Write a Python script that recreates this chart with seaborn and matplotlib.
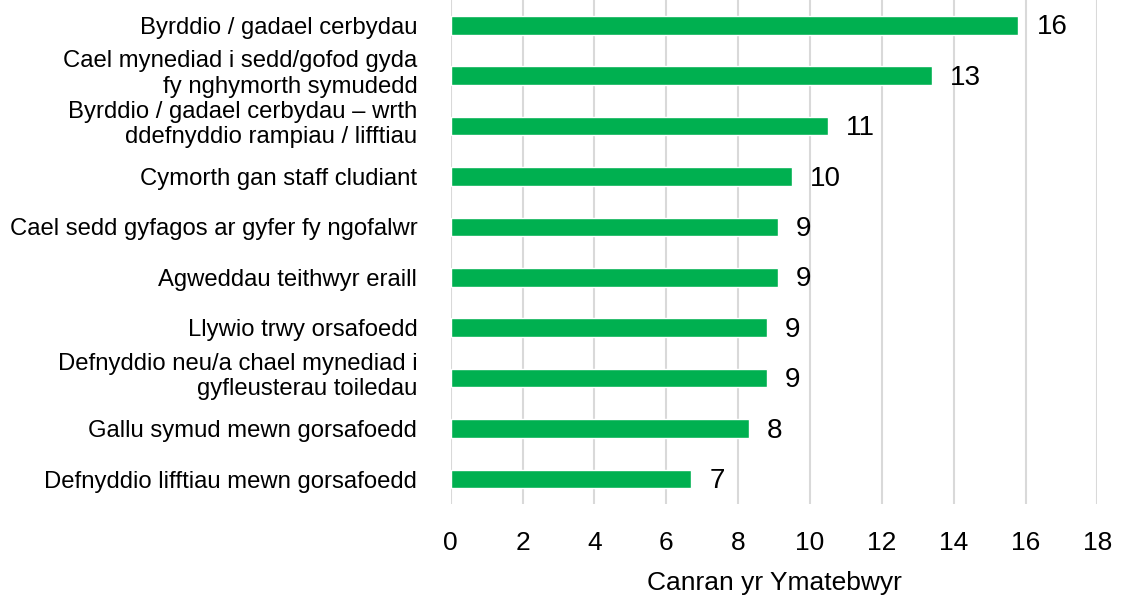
import matplotlib
matplotlib.use("Agg")
import matplotlib.pyplot as plt
import matplotlib.transforms as mtransforms
import seaborn as sns
import pandas as pd

categories = [
    "Byrddio / gadael cerbydau",
    "Cael mynediad i sedd/gofod gyda\nfy nghymorth symudedd",
    "Byrddio / gadael cerbydau – wrth\nddefnyddio rampiau / lifftiau",
    "Cymorth gan staff cludiant",
    "Cael sedd gyfagos ar gyfer fy ngofalwr",
    "Agweddau teithwyr eraill",
    "Llywio trwy orsafoedd",
    "Defnyddio neu/a chael mynediad i\ngyfleusterau toiledau",
    "Gallu symud mewn gorsafoedd",
    "Defnyddio lifftiau mewn gorsafoedd",
]
values = [15.8, 13.4, 10.5, 9.5, 9.1, 9.1, 8.8, 8.8, 8.3, 6.7]
value_labels = ["16", "13", "11", "10", "9", "9", "9", "9", "8", "7"]
x_ticks = [0, 2, 4, 6, 8, 10, 12, 14, 16, 18]
x_label = "Canran yr Ymatebwyr"

sns.set_theme(style="white")
plt.rcParams["font.family"] = ["Liberation Sans", "DejaVu Sans"]

df = pd.DataFrame({"cat": categories, "val": values})

fig = plt.figure(figsize=(11.21, 5.96), dpi=100)
ax = fig.add_axes([0.402, 0.154, 0.577, 0.846])

sns.barplot(data=df, x="val", y="cat", color="#00B050", saturation=1,
            width=0.37, ax=ax, zorder=3)

ax.set_xlim(0, 18)
ax.set_ylim(9.5, -0.5)
ax.set_xticks(x_ticks)
ax.set_xticklabels([str(t) for t in x_ticks], fontsize=19, color="#000000")
ax.tick_params(axis="x", length=0, pad=19)
ax.tick_params(axis="y", length=0, pad=24)
shift = mtransforms.ScaledTranslation(0, 0.06, fig.dpi_scale_trans)
for lbl in ax.get_yticklabels():
    lbl.set_fontsize(17.2)
    lbl.set_color("#000000")
    lbl.set_horizontalalignment("right")
    lbl.set_multialignment("right")
    lbl.set_linespacing(1.2)
    if "\n" in lbl.get_text():
        lbl.set_transform(lbl.get_transform() + shift)
ax.set_ylabel("")
ax.set_xlabel(x_label, fontsize=19, labelpad=12, color="#000000")
ax.xaxis.grid(True, color="#d9d9d9", linewidth=1.5, zorder=0)
ax.yaxis.grid(False)
for s in ax.spines.values():
    s.set_visible(False)

for i, (v, t) in enumerate(zip(values, value_labels)):
    ax.annotate(t, xy=(v, i), xytext=(13, -1.5), textcoords="offset points",
                va="center", ha="left", fontsize=20, color="#000000")

fig.savefig("out.png", dpi=100)
